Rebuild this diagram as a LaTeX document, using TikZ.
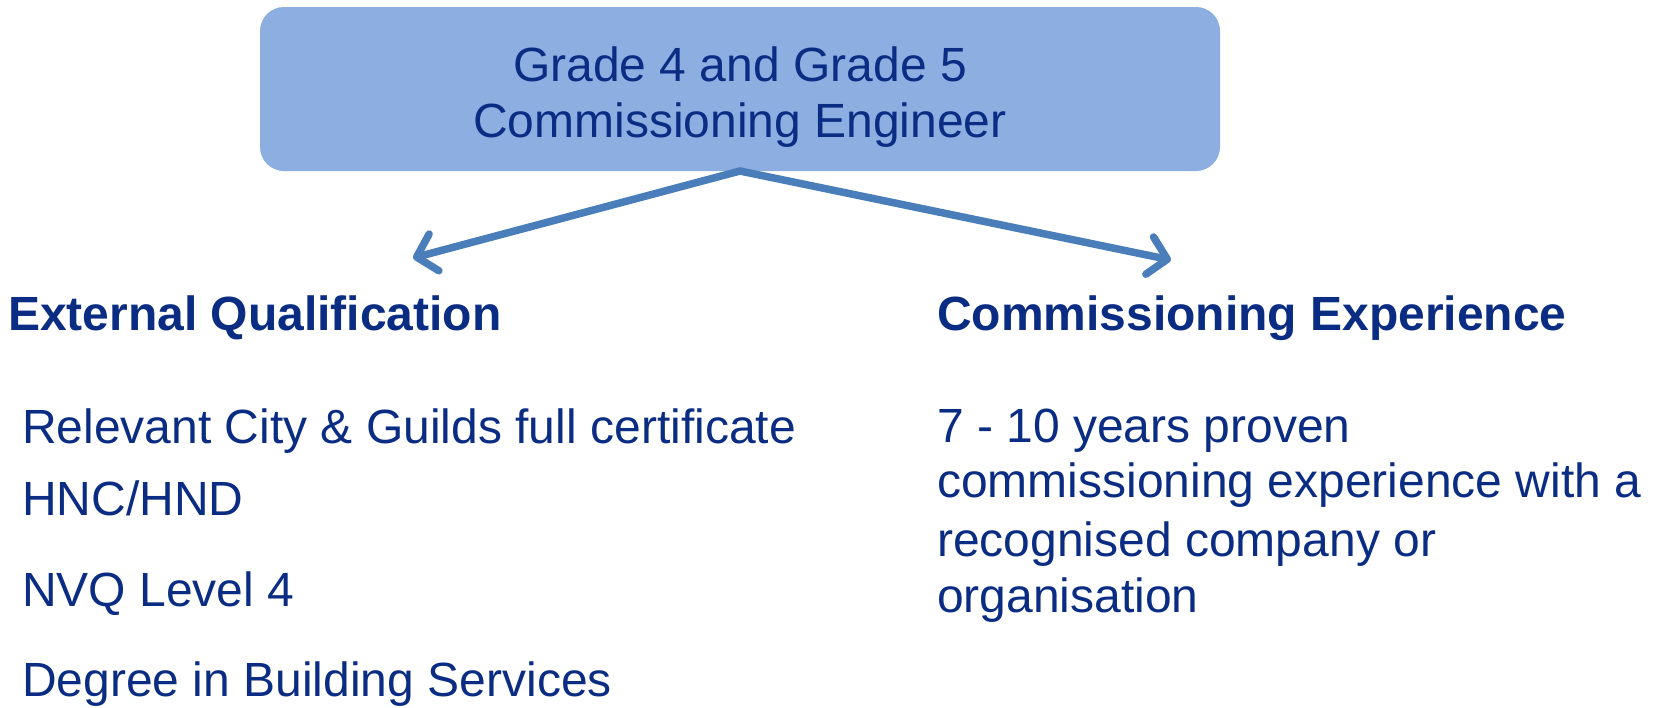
\documentclass[tikz,border=0pt]{standalone}
\usepackage{fontspec}
\setmainfont{Liberation Sans}
\usetikzlibrary{arrows.meta}
\definecolor{boxfill}{HTML}{8DAEE1}
\definecolor{navy}{HTML}{0A2C83}
\definecolor{arrowblue}{HTML}{4A7EBB}
\tikzset{
  txt/.style={anchor=base west, inner sep=0pt, text=navy, font=\fontsize{48}{56}\selectfont},
  head/.style={txt, font=\fontsize{48}{56}\selectfont\bfseries},
  conn/.style={draw=arrowblue, line width=7.5pt, line cap=round,
    -{Straight Barb[length=18pt, width=38pt, line cap=round, round]}},
}
\begin{document}
\begin{tikzpicture}[x=1pt,y=-1pt]
\useasboundingbox (0,0) rectangle (1654,707);
\fill[boxfill, rounded corners=24pt] (260,7) rectangle (1220,171);
\node[txt, anchor=base] (l1) at (740,81) {Grade 4 and Grade 5};
\node[txt, anchor=base] (l2) at (740,137) {Commissioning Engineer};
\coordinate (src) at (740,171);
\coordinate (lt) at (413,258);
\coordinate (rt) at (1171,260);
\draw[conn] (src) -- (lt);
\draw[conn] (src) -- (rt);
\node[head] (eq) at (8,330) {External Qualification};
\node[head] (ce) at (937,330) {Commissioning Experience};
\node[txt] (q1) at (22,443) {Relevant City \& Guilds full certificate};
\node[txt] (q2) at (22,515) {HNC/HND};
\node[txt] (q3) at (22,606) {NVQ Level 4};
\node[txt] (q4) at (22,696) {Degree in Building Services};
\node[txt] (e1) at (937,442) {7 - 10 years proven};
\node[txt] (e2) at (937,497) {commissioning experience with a};
\node[txt] (e3) at (937,556) {recognised company or};
\node[txt] (e4) at (937,612) {organisation};
\end{tikzpicture}
\end{document}
